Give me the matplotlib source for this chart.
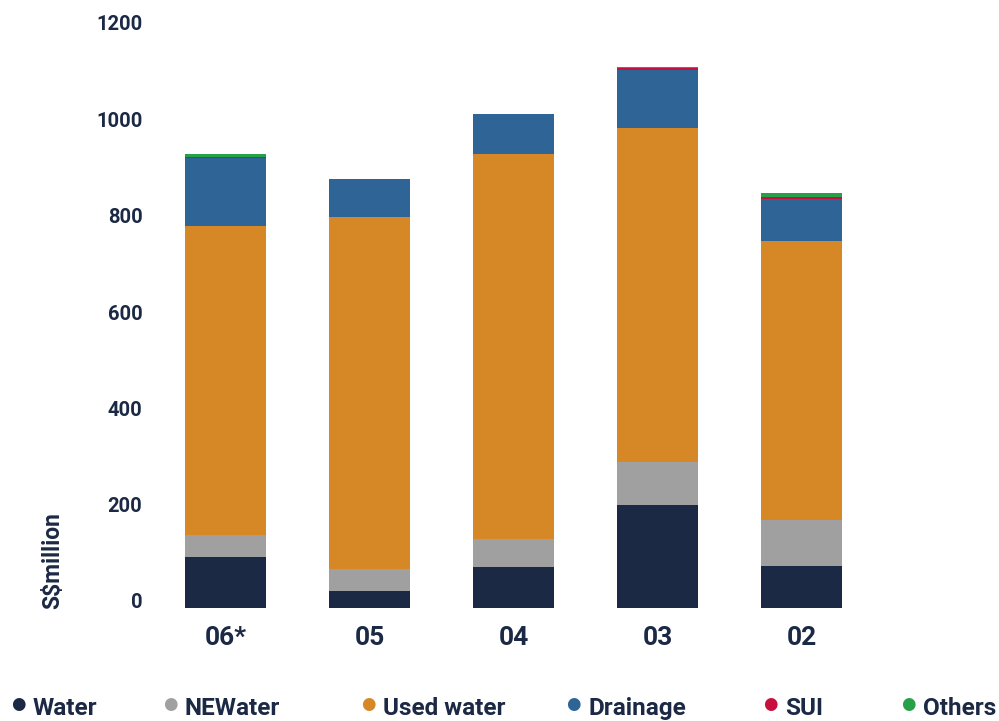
import numpy as np
import matplotlib.pyplot as plt
import matplotlib.transforms as mtransforms

# Data (S$ million)
years = ['06*', '05', '04', '03', '02']
water = [106, 35, 85, 214, 87]
newater = [45, 46, 58, 89, 96]
used_water = [642, 731, 799, 693, 579]
drainage = [141, 79, 84, 120, 87]
sui = [2, 0, 0, 5, 4]
others = [6, 0, 0, 2, 8]

series_names = ['Water', 'NEWater', 'Used water', 'Drainage', 'SUI', 'Others']
series_vals = [water, newater, used_water, drainage, sui, others]
colors = ['#1b2945', '#a0a0a0', '#d58825', '#2e6496', '#c8103e', '#27a04a']
text_col = '#1b2945'

plt.rcParams['font.family'] = ['Roboto', 'DejaVu Sans']
plt.rcParams['font.weight'] = 'bold'

fig = plt.figure(figsize=(9.99, 7.21), dpi=100)
W, H = 999, 721
ax = fig.add_axes([155 / W, (H - 608) / H, (999 - 155) / W, (608 - 30) / H])

x = np.arange(len(years))
bottom = np.zeros(len(years))
for name, vals, c in zip(series_names, series_vals, colors):
    ax.bar(x, vals, width=0.56, bottom=bottom, color=c, linewidth=0)
    bottom += np.array(vals)

ax.set_xlim(-0.49, 5.37)
ax.set_ylim(0, 1200)
ax.set_yticks(range(0, 1201, 200))
ax.set_xticks(x)
ax.set_xticklabels(years)
for s in ax.spines.values():
    s.set_visible(False)
ax.tick_params(length=0)
ax.tick_params(axis='y', labelsize=14.5, labelcolor=text_col, pad=9)
ax.tick_params(axis='x', labelsize=19, labelcolor=text_col, pad=13)
shift = mtransforms.ScaledTranslation(0, 7 / 100, fig.dpi_scale_trans)
for lab in ax.get_yticklabels():
    lab.set_fontweight('bold')
    lab.set_transform(lab.get_transform() + shift)
for lab in ax.get_xticklabels():
    lab.set_fontweight('bold')

fig.text(53 / W, 1 - 561 / H, 'S$million', rotation=90, ha='center', va='center',
         fontsize=16.5, fontweight='bold', color=text_col)

# legend along the bottom
dot_x = [18, 170, 368, 573, 770, 908]
for px, name, c in zip(dot_x, series_names, colors):
    fig.text(px / W, 1 - 704 / H, '●', color=c, fontsize=12, ha='center', va='center',
             family='DejaVu Sans')
    fig.text((px + 15) / W, 1 - 715 / H, name, color=text_col, fontsize=17.5,
             fontweight='bold', ha='left', va='baseline')

fig.savefig('out.png', dpi=100)
